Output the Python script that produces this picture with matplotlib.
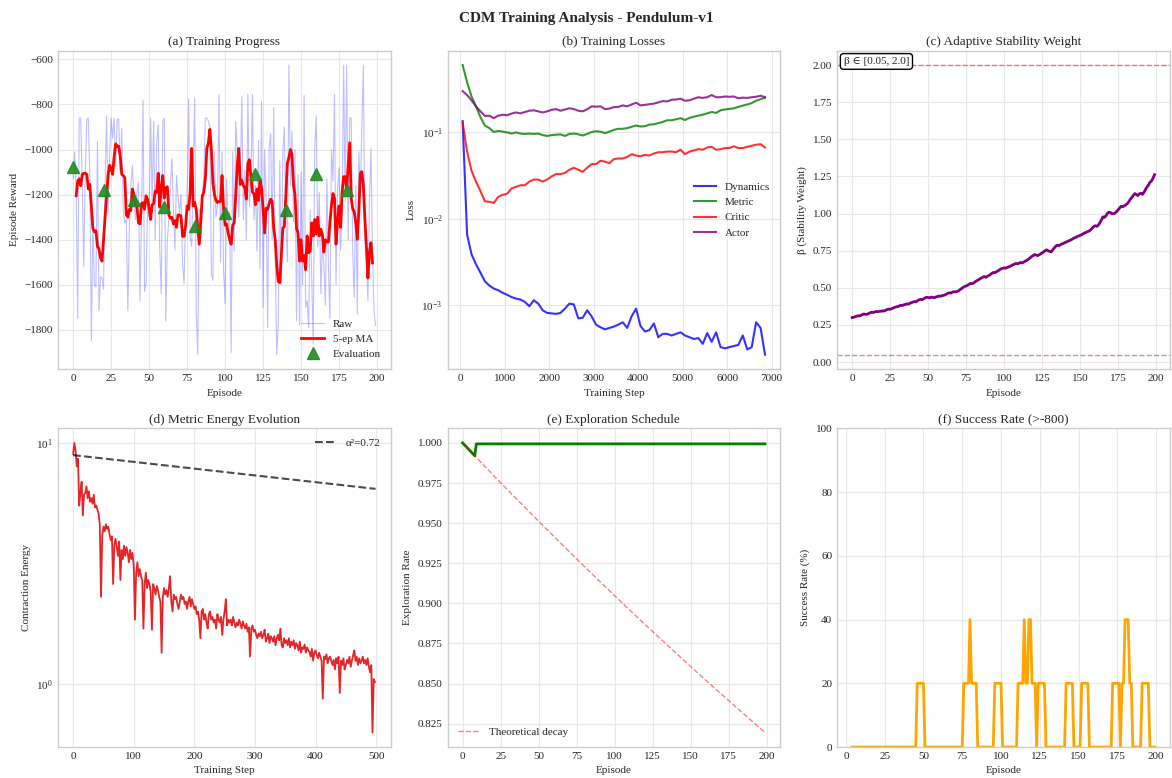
import matplotlib
matplotlib.use("Agg")
import matplotlib.pyplot as plt
import pandas as pd

# (a) episode rewards
raw_rewards = [
    -1130, -1010, -1180, -1750, -860, -860, -1160, -1520, -1100, -865,
    -860, -1130, -1850, -1300, -1600, -1610, -965, -1715, -1565, -1570,
    -1620, -1160, -850, -1280, -1025, -860, -950, -860, -1075, -865,
    -865, -1100, -905, -1270, -1325, -1310, -1715, -1355, -1160, -1070,
    -1220, -1310, -1190, -1145, -1670, -1300, -780, -1630, -1590, -1240,
    -1300, -860, -1235, -875, -1400, -965, -890, -1440, -1640, -875,
    -860, -1760, -1400, -1310, -1160, -1040, -1265, -1445, -1115, -1210,
    -1280, -1200, -1505, -1595, -1300, -1240, -775, -1385, -1430, -1100,
    -770, -1715, -1910, -1265, -1400, -1200, -1120, -860, -860, -875,
    -900, -1550, -1580, -1010, -1300, -1250, -755, -1500, -1010, -1530,
    -1685, -1130, -1340, -1280, -1900, -1010, -1450, -875, -1000, -1300,
    -1110, -765, -1310, -1090, -1400, -755, -1250, -1150, -755, -1310,
    -1160, -1450, -960, -1530, -785, -1700, -1000, -1210, -1790, -990,
    -930, -1400, -815, -1500, -1910, -1775, -1050, -1600, -1010, -900,
    -1320, -1500, -625, -1160, -920, -1320, -1000, -1760, -1110, -1780,
    -1100, -1600, -760, -1700, -1670, -1790, -1270, -1555, -1860, -995,
    -850, -1430, -1190, -1640, -1420, -1510, -1690, -1130, -1520, -1750,
    -1000, -1140, -755, -1600, -1180, -1080, -1445, -1300, -625, -1230,
    -625, -1400, -860, -860, -1460, -1655, -1160, -1730, -1010, -1200,
    -900, -625, -1400, -1490, -1670, -1230, -995, -1460, -1715, -1780,
]

# 5-episode moving average (centred, episodes 2..197)
ma_rewards = [
    -1205, -1140, -1130, -1160, -1110, -1105, -1105, -1110,
    -1175, -1155, -1250, -1350, -1365, -1360, -1430, -1440, -1480, -1495,
    -1400, -1300, -1215, -1110, -1070, -1085, -1110, -1030, -975, -985,
    -985, -1030, -1110, -1115, -1125, -1290, -1300, -1265, -1270, -1175,
    -1200, -1245, -1255, -1325, -1330, -1240, -1235, -1265, -1205, -1220,
    -1260, -1310, -1245, -1240, -1185, -1190, -1105, -1255, -1165, -1115,
    -1215, -1170, -1165, -1290, -1305, -1300, -1330, -1315, -1345, -1290,
    -1290, -1295, -1385, -1385, -1340, -1250, -1265, -1190, -995, -1250,
    -1235, -1265, -1340, -1420, -1320, -1205, -1190, -1130, -995, -970,
    -910, -1005, -1150, -1200, -1225, -1235, -1230, -1230, -1115, -1260,
    -1335, -1330, -1370, -1400, -1420, -1335, -1325, -1205, -1070, -995,
    -1155, -1135, -1160, -1170, -1220, -1060, -1045, -1120, -1190, -1195,
    -1245, -1175, -1225, -1135, -1170, -1265, -1370, -1260, -1265, -1240,
    -1220, -1230, -1350, -1400, -1515, -1585, -1590, -1470, -1350, -1340,
    -1200, -1060, -1035, -1000, -1020, -1158, -1200, -1350, -1370, -1495,
    -1400, -1495, -1470, -1533, -1383, -1458, -1450, -1325, -1383, -1310,
    -1375, -1300, -1383, -1353, -1375, -1455, -1400, -1410, -1410, -1323,
    -1248, -1195, -1218, -1420, -1323, -1250, -1345, -1190, -1120, -1120,
    -1173, -1075, -970, -1218, -1263, -1278, -1323, -1398, -1278, -1105,
    -1098, -1158, -1308, -1428, -1570, -1458, -1413, -1503,
]

eval_episodes = [0, 20, 40, 60, 80, 100, 120, 140, 160, 180]
eval_rewards = [-1078, -1180, -1222, -1255, -1337, -1283, -1107, -1270, -1107, -1180]

# (b) training losses
loss_steps = [
    50, 150, 250, 350, 450, 550, 650, 750, 850, 950,
    1050, 1150, 1250, 1350, 1450, 1550, 1650, 1750, 1850, 1950,
    2050, 2150, 2250, 2350, 2450, 2550, 2650, 2750, 2850, 2950,
    3050, 3150, 3250, 3350, 3450, 3550, 3650, 3750, 3850, 3950,
    4050, 4150, 4250, 4350, 4450, 4550, 4650, 4750, 4850, 4950,
    5050, 5150, 5250, 5350, 5450, 5550, 5650, 5750, 5850, 5950,
    6050, 6150, 6250, 6350, 6450, 6550, 6650, 6750, 6850,
]
dynamics_loss = [
    0.135, 0.0066, 0.0039, 0.003, 0.0024, 0.0019, 0.0017, 0.00157, 0.0015, 0.0014,
    0.00133, 0.00125, 0.0012, 0.00117, 0.0011, 0.00098, 0.00115, 0.00105, 0.00088, 0.00082,
    0.00081, 0.0008, 0.00082, 0.00092, 0.00105, 0.00103, 0.00071, 0.00072, 0.00088, 0.00075,
    0.0006, 0.00056, 0.00053, 0.00055, 0.00057, 0.0006, 0.00064, 0.00055, 0.00075, 0.00092,
    0.00058, 0.0005, 0.00052, 0.00062, 0.00043, 0.00047, 0.00047, 0.00045, 0.00047, 0.00049,
    0.00045, 0.00043, 0.00041, 0.00042, 0.00036, 0.00048, 0.00038, 0.00049, 0.00033, 0.00032,
    0.00033, 0.00034, 0.00035, 0.00045, 0.00031, 0.00033, 0.00064, 0.00055, 0.00027,
]
metric_loss = [
    0.6, 0.38, 0.26, 0.2, 0.15, 0.12, 0.112, 0.101, 0.104, 0.102,
    0.1, 0.097, 0.1, 0.097, 0.096, 0.097, 0.096, 0.097, 0.093, 0.091,
    0.093, 0.094, 0.095, 0.091, 0.096, 0.097, 0.095, 0.092, 0.096, 0.101,
    0.103, 0.102, 0.098, 0.102, 0.107, 0.11, 0.11, 0.112, 0.116, 0.12,
    0.117, 0.118, 0.123, 0.124, 0.128, 0.132, 0.138, 0.138, 0.142, 0.146,
    0.139, 0.147, 0.152, 0.156, 0.16, 0.166, 0.172, 0.168, 0.18, 0.184,
    0.187, 0.19, 0.197, 0.204, 0.21, 0.218, 0.232, 0.242, 0.252,
]
critic_loss = [
    0.13, 0.06, 0.036, 0.027, 0.021, 0.016, 0.0158, 0.0153, 0.018, 0.019,
    0.0195, 0.0225, 0.0235, 0.0245, 0.0245, 0.027, 0.0285, 0.0285, 0.027, 0.0285,
    0.031, 0.033, 0.033, 0.034, 0.037, 0.039, 0.037, 0.035, 0.039, 0.043,
    0.043, 0.047, 0.046, 0.044, 0.049, 0.05, 0.05, 0.052, 0.056, 0.054,
    0.053, 0.055, 0.054, 0.057, 0.059, 0.059, 0.06, 0.06, 0.059, 0.063,
    0.056, 0.06, 0.062, 0.064, 0.063, 0.067, 0.068, 0.063, 0.064, 0.066,
    0.066, 0.069, 0.066, 0.066, 0.068, 0.07, 0.072, 0.073, 0.067,
]
actor_loss = [
    0.3, 0.27, 0.235, 0.2, 0.175, 0.155, 0.156, 0.146, 0.156, 0.16,
    0.158, 0.165, 0.17, 0.166, 0.172, 0.178, 0.18, 0.175, 0.17, 0.175,
    0.182, 0.186, 0.178, 0.184, 0.19, 0.186, 0.178, 0.175, 0.185, 0.2,
    0.198, 0.2, 0.186, 0.188, 0.196, 0.197, 0.205, 0.2, 0.21, 0.22,
    0.205, 0.208, 0.212, 0.215, 0.222, 0.23, 0.228, 0.238, 0.24, 0.245,
    0.232, 0.235, 0.245, 0.255, 0.25, 0.255, 0.27, 0.255, 0.255, 0.26,
    0.258, 0.26, 0.248, 0.252, 0.25, 0.255, 0.258, 0.265, 0.255,
]

# (c) adaptive beta per episode
beta_values = [
    0.300, 0.302, 0.306, 0.309, 0.312, 0.311, 0.316, 0.322, 0.324, 0.321,
    0.323, 0.328, 0.333, 0.336, 0.334, 0.338, 0.341, 0.339, 0.343, 0.342,
    0.345, 0.344, 0.349, 0.354, 0.357, 0.355, 0.360, 0.364, 0.369, 0.372,
    0.374, 0.378, 0.383, 0.381, 0.386, 0.388, 0.392, 0.390, 0.396, 0.401,
    0.404, 0.408, 0.406, 0.413, 0.419, 0.423, 0.420, 0.426, 0.432, 0.437,
    0.435, 0.432, 0.438, 0.436, 0.433, 0.438, 0.441, 0.445, 0.443, 0.447,
    0.449, 0.452, 0.458, 0.463, 0.467, 0.465, 0.471, 0.474, 0.472, 0.476,
    0.480, 0.488, 0.495, 0.503, 0.509, 0.513, 0.518, 0.524, 0.530, 0.528,
    0.533, 0.541, 0.548, 0.553, 0.561, 0.566, 0.572, 0.576, 0.571, 0.578,
    0.583, 0.590, 0.598, 0.604, 0.602, 0.609, 0.614, 0.622, 0.628, 0.631,
    0.634, 0.632, 0.638, 0.641, 0.645, 0.651, 0.656, 0.661, 0.664, 0.662,
    0.667, 0.671, 0.668, 0.674, 0.680, 0.686, 0.693, 0.701, 0.710, 0.716,
    0.724, 0.721, 0.717, 0.722, 0.729, 0.735, 0.742, 0.751, 0.756, 0.749,
    0.745, 0.742, 0.756, 0.768, 0.781, 0.787, 0.784, 0.790, 0.795, 0.799,
    0.805, 0.809, 0.814, 0.818, 0.823, 0.829, 0.836, 0.839, 0.845, 0.849,
    0.853, 0.858, 0.864, 0.869, 0.874, 0.879, 0.883, 0.891, 0.902, 0.913,
    0.918, 0.914, 0.922, 0.938, 0.956, 0.978, 0.974, 0.985, 1.002, 1.010,
    1.006, 1.000, 0.998, 1.004, 1.013, 1.025, 1.038, 1.049, 1.046, 1.052,
    1.058, 1.066, 1.079, 1.095, 1.108, 1.122, 1.135, 1.128, 1.121, 1.133,
    1.137, 1.129, 1.142, 1.161, 1.178, 1.192, 1.211, 1.219, 1.238, 1.262,
]
beta_bounds = [0.05, 2.0]

# (d) contraction energy, every second training step
energy_steps = list(range(0, 500, 2))
contraction_energy = [
    9.0, 10.0, 9.3, 8.0, 8.6, 5.5, 6.2, 6.9, 5.0, 6.1,
    6.2, 6.6, 5.9, 6.3, 5.7, 5.9, 5.6, 6.1, 5.4, 5.5,
    5.3, 5.1, 4.6, 2.3, 4.1, 4.5, 4.3, 4.6, 4.4, 4.5,
    4.2, 3.95, 4.1, 2.6, 3.8, 4.0, 3.7, 3.4, 3.9, 2.7,
    3.6, 3.3, 3.75, 3.4, 3.7, 3.5, 3.2, 3.6, 3.3, 3.5,
    3.1, 1.85, 2.9, 3.2, 2.8, 3.0, 2.8, 2.7, 1.7, 2.6,
    2.9, 2.5, 2.7, 2.6, 2.4, 1.68, 2.6, 2.5, 2.35, 2.55,
    2.45, 2.3, 2.2, 1.35, 2.3, 2.5, 2.35, 2.45, 2.3, 2.5,
    2.8, 2.2, 2.0, 2.35, 2.25, 2.3, 2.15, 2.05, 2.2, 2.35,
    2.25, 2.3, 2.15, 2.2, 2.05, 2.2, 2.3, 2.1, 2.25, 2.15,
    2.05, 2.1, 1.95, 2.0, 1.85, 1.55, 2.0, 2.05, 1.85, 1.95,
    1.8, 1.7, 1.95, 2.0, 1.85, 1.9, 1.8, 1.85, 1.7, 1.95,
    1.85, 1.8, 1.9, 1.6, 1.85, 2.0, 2.25, 1.75, 1.85, 1.8,
    1.85, 1.75, 1.9, 1.8, 1.72, 1.8, 1.75, 1.85, 1.78, 1.7,
    1.82, 1.75, 1.7, 1.78, 1.65, 1.72, 1.3, 1.7, 1.75, 1.65,
    1.68, 1.6, 1.55, 1.62, 1.58, 1.65, 1.55, 1.6, 1.68, 1.5,
    1.55, 1.62, 1.48, 1.58, 1.55, 1.5, 1.58, 1.45, 1.55, 1.6,
    1.52, 1.7, 1.45, 1.42, 1.55, 1.48, 1.52, 1.45, 1.55, 1.42,
    1.5, 1.45, 1.52, 1.4, 1.48, 1.45, 1.38, 1.5, 1.35, 1.42,
    1.4, 1.46, 1.35, 1.42, 1.38, 1.36, 1.3, 1.4, 1.25, 1.35,
    1.38, 1.32, 1.28, 1.35, 1.3, 1.25, 0.87, 1.3, 1.27, 1.33,
    1.22, 1.28, 1.3, 1.25, 1.2, 1.26, 1.15, 1.28, 1.22, 1.3,
    0.92, 1.25, 1.2, 1.28, 1.15, 1.2, 1.26, 1.22, 1.3, 1.18,
    1.25, 1.32, 1.38, 1.25, 1.3, 1.2, 1.28, 1.22, 1.25, 1.3,
    1.22, 1.26, 1.2, 1.28, 1.18, 1.12, 1.2, 0.63, 1.05, 1.02,
]
bound_steps = [0, 499]
bound_energy = [8.9, 6.45]

# (e) exploration schedule
exploration_rate = [1.0, 0.999, 0.998, 0.997, 0.996, 0.995, 0.994, 0.993, 0.992] + [0.9994] * 191
decay_episodes = [0, 10, 20, 30, 40, 50, 60, 70, 80, 90, 100,
                  110, 120, 130, 140, 150, 160, 170, 180, 190, 199]
decay_rate = [1.0, 0.990, 0.980, 0.9704, 0.9608, 0.9512, 0.9418, 0.9324, 0.9231, 0.9139, 0.9048,
              0.8958, 0.8869, 0.8781, 0.8694, 0.8607, 0.8521, 0.8437, 0.8353, 0.8270, 0.8195]

SUCCESS_THRESHOLD = -800


def _style():
    plt.rcParams.update({
        "font.family": ["Liberation Serif", "DejaVu Serif"],
        "mathtext.fontset": "stix",
        "axes.edgecolor": "#cccccc",
        "axes.linewidth": 1.0,
        "axes.grid": True,
        "axes.axisbelow": True,
        "grid.color": "#e8e8e8",
        "grid.linewidth": 0.8,
        "axes.titlesize": 9.5,
        "axes.titlepad": 4,
        "axes.labelsize": 8,
        "xtick.labelsize": 8,
        "ytick.labelsize": 8,
        "xtick.major.size": 0,
        "ytick.major.size": 0,
        "xtick.minor.size": 0,
        "ytick.minor.size": 0,
        "text.color": "#262626",
        "axes.labelcolor": "#262626",
        "xtick.color": "#262626",
        "ytick.color": "#262626",
        "legend.fontsize": 8,
        "legend.frameon": False,
    })


def main():
    _style()
    episodes = list(range(len(raw_rewards)))

    fig, axes = plt.subplots(2, 3, figsize=(11.72, 7.78), dpi=100)
    fig.subplots_adjust(left=0.0495, right=0.998, top=0.935, bottom=0.0398,
                        wspace=0.171, hspace=0.186)
    fig.suptitle("CDM Training Analysis - Pendulum-v1", fontsize=11, fontweight="bold", y=0.985)

    # (a) training progress
    ax = axes[0, 0]
    ax.plot(episodes, raw_rewards, color="blue", alpha=0.25, lw=0.8, label="Raw")
    ax.plot(list(range(2, 2 + len(ma_rewards))), ma_rewards, color="red", lw=2, label="5-ep MA")
    ax.plot(eval_episodes, eval_rewards, "^", color="forestgreen", ms=8, alpha=0.9,
            ls="none", label="Evaluation")
    ax.set_title("(a) Training Progress")
    ax.set_xlabel("Episode")
    ax.set_ylabel("Episode Reward")
    ax.set_xticks(range(0, 201, 25))
    ax.legend(loc="lower right")

    # (b) training losses
    ax = axes[0, 1]
    ax.semilogy(loss_steps, dynamics_loss, color="blue", alpha=0.8, lw=1.5, label="Dynamics")
    ax.semilogy(loss_steps, metric_loss, color="green", alpha=0.8, lw=1.5, label="Metric")
    ax.semilogy(loss_steps, critic_loss, color="red", alpha=0.8, lw=1.5, label="Critic")
    ax.semilogy(loss_steps, actor_loss, color="purple", alpha=0.8, lw=1.5, label="Actor")
    ax.set_title("(b) Training Losses")
    ax.set_xlabel("Training Step")
    ax.set_ylabel("Loss")
    ax.set_xticks(range(0, 7001, 1000))
    ax.legend(loc="center right")

    # (c) adaptive stability weight
    ax = axes[0, 2]
    ax.plot(episodes, beta_values, color="purple", lw=2)
    for b in beta_bounds:
        ax.axhline(b, color="red", ls="--", alpha=0.5, lw=1)
    ax.text(0.02, 0.98, "β ∈ [0.05, 2.0]", transform=ax.transAxes, va="top", ha="left",
            fontsize=8, bbox=dict(boxstyle="round,pad=0.3", facecolor="white", edgecolor="black"))
    ax.set_title("(c) Adaptive Stability Weight")
    ax.set_xlabel("Episode")
    ax.set_ylabel("β (Stability Weight)")
    ax.set_xticks(range(0, 201, 25))
    ax.set_yticks([0, 0.25, 0.5, 0.75, 1.0, 1.25, 1.5, 1.75, 2.0])
    ax.yaxis.set_major_formatter(plt.FormatStrFormatter("%.2f"))

    # (d) metric energy evolution
    ax = axes[1, 0]
    ax.semilogy(energy_steps, contraction_energy, color="#e31a1c", alpha=0.95, lw=1.3)
    ax.semilogy(bound_steps, bound_energy, "k--", alpha=0.7, lw=1.5, label="α²=0.72")
    ax.set_title("(d) Metric Energy Evolution")
    ax.set_xlabel("Training Step")
    ax.set_ylabel("Contraction Energy")
    ax.legend(loc="upper right")

    # (e) exploration schedule
    ax = axes[1, 1]
    ax.plot(episodes, exploration_rate, color="green", lw=2)
    ax.plot(decay_episodes, decay_rate, color="red", ls="--", alpha=0.5, lw=1,
            label="Theoretical decay")
    ax.set_title("(e) Exploration Schedule")
    ax.set_xlabel("Episode")
    ax.set_ylabel("Exploration Rate")
    ax.set_xticks(range(0, 201, 25))
    ax.yaxis.set_major_formatter(plt.FormatStrFormatter("%.3f"))
    ax.legend(loc="lower left")

    # (f) success rate over a 5-episode window
    ax = axes[1, 2]
    hits = pd.Series(raw_rewards) > SUCCESS_THRESHOLD
    success = hits.astype(float).rolling(5).mean().dropna() * 100
    ax.plot(success.index, success.values, color="orange", lw=2)
    ax.set_title("(f) Success Rate (>-800)")
    ax.set_xlabel("Episode")
    ax.set_ylabel("Success Rate (%)")
    ax.set_ylim(0, 100)
    ax.set_xticks(range(0, 201, 25))

    fig.savefig("out.png", dpi=100)


if __name__ == "__main__":
    main()
